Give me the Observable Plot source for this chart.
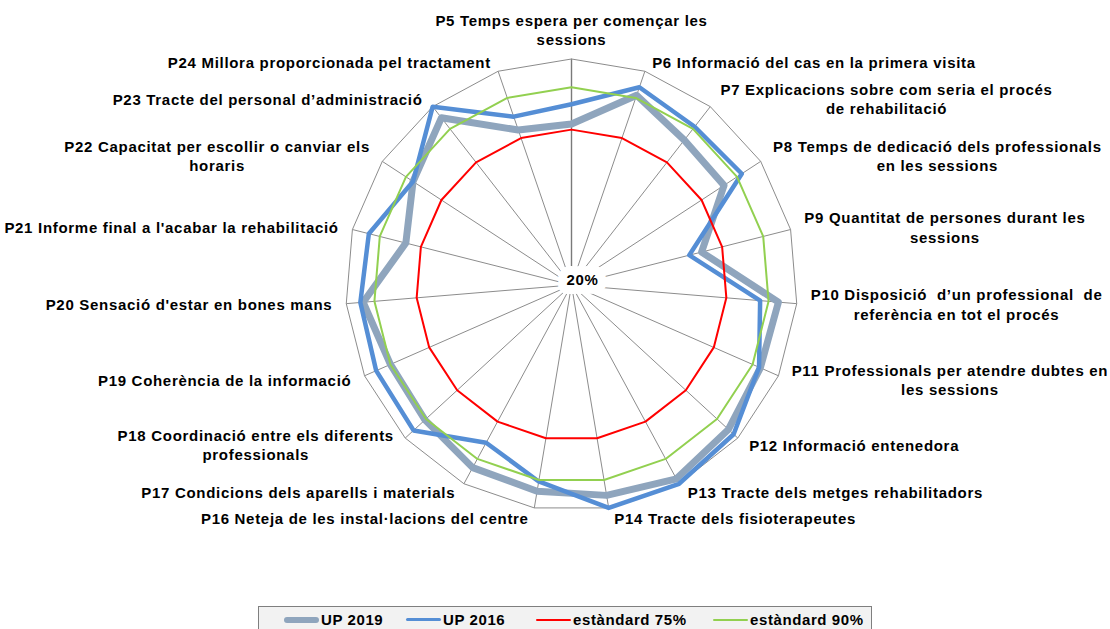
<!DOCTYPE html>
<html><head><meta charset="utf-8">
<script src="https://cdn.jsdelivr.net/npm/d3@7"></script>
<script src="https://cdn.jsdelivr.net/npm/@observablehq/plot@0.6"></script>
<style>
html,body{margin:0;padding:0;background:#fff;overflow:hidden;}
#chart svg text{letter-spacing:0.7px; white-space:pre;}
.legend{position:absolute; left:258px; top:606px; width:614px; height:30px; box-sizing:border-box; border:1px solid #7f7f7f; background:#f2f2f2;}
.item{position:absolute; top:4px; display:flex; align-items:center; font:bold 15px "Liberation Sans",Arial,sans-serif; letter-spacing:0.6px; color:#000; white-space:nowrap;}
.sw{display:inline-block; width:35px; border-radius:4px; margin-right:2px;}
</style>
</head><body>
<div id="chart"></div>
<div class="legend" id="legend"></div>
<script>
// ---- data ----
const categories = [
  "P5 Temps espera per començar les\nsessions",
  "P6 Informació del cas en la primera visita",
  "P7 Explicacions sobre com seria el procés\nde rehabilitació",
  "P8 Temps de dedicació dels professionals\nen les sessions",
  "P9 Quantitat de persones durant les\nsessions",
  "P10 Disposició  d’un professional  de\nreferència en tot el procés",
  "P11 Professionals per atendre dubtes en\nles sessions",
  "P12 Informació entenedora",
  "P13 Tracte dels metges rehabilitadors",
  "P14 Tracte dels fisioterapeutes",
  "P16 Neteja de les instal·lacions del centre",
  "P17 Condicions dels aparells i materials",
  "P18 Coordinació entre els diferents\nprofessionals",
  "P19 Coherència de la informació",
  "P20 Sensació d'estar en bones mans",
  "P21 Informe final a l'acabar la rehabilitació",
  "P22 Capacitat per escollir o canviar els\nhoraris",
  "P23 Tracte del personal d’administració",
  "P24 Millora proporcionada pel tractament"
];
const up2019 = [77, 91, 85, 84.5, 67.5, 93.5, 93, 95.5, 98, 95.5, 94, 93.5, 90.5, 90, 94, 80.5, 87, 95, 78];
const up2016 = [84, 94, 91, 92, 63, 87, 92.5, 98, 100, 100, 90.5, 83.5, 96, 95.5, 95, 94, 87, 100, 83];
const std75  = [75, 75, 75, 75, 75, 75, 75, 75, 75, 75, 75, 75, 75, 75, 75, 75, 75, 75, 75];
const std90  = [90, 90, 90, 90, 90, 90, 90, 90, 90, 90, 90, 90, 90, 90, 90, 90, 90, 90, 90];
const seriesNames = ["UP 2019", "UP 2016", "estàndard 75%", "estàndard 90%"];
const axisMin = 20, axisMax = 100;
const tickLabels = ["20%"];

// ---- styles ----
const seriesStyle = {
  "UP 2019": {stroke: "#8FA5BD", width: 7},
  "UP 2016": {stroke: "#558ED5", width: 4.5},
  "estàndard 75%": {stroke: "#FF0000", width: 2},
  "estàndard 90%": {stroke: "#92D050", width: 2}
};
const FONT = '"Liberation Sans", Arial, sans-serif';
const FS = 15, LS = 0.7, LH = 19.5;

const n = categories.length;
const ang = i => i * 2 * Math.PI / n;
const polar = (i, v) => {
  const r = (v - axisMin) / (axisMax - axisMin);
  return {x: r * Math.sin(ang(i)), y: r * Math.cos(ang(i))};
};
const valuesBy = {"UP 2019": up2019, "UP 2016": up2016, "estàndard 75%": std75, "estàndard 90%": std90};

function ring(series, vals) {
  const rows = vals.map((v, i) => ({series, i, v, ...polar(i, v)}));
  rows.push(rows[0]);
  return rows;
}

const outer = ring("grid", categories.map(() => axisMax));
const spokes = categories.map((c, i) => ({i, ...polar(i, axisMax)}));

// measurement for label block widths
const ctx = document.createElement("canvas").getContext("2d");
ctx.font = `bold ${FS}px ${FONT}`;
const measure = s => ctx.measureText(s).width + s.length * LS;

const marks = [];
marks.push(Plot.link(spokes.slice(1), {x1: 0, y1: 0, x2: "x", y2: "y", stroke: "#8c8c8c", strokeWidth: 1}));
marks.push(Plot.link(spokes.slice(0, 1), {x1: 0, y1: 0, x2: "x", y2: "y", stroke: "#7a7a7a", strokeWidth: 1.4}));
marks.push(Plot.line(outer, {x: "x", y: "y", stroke: "#8c8c8c", strokeWidth: 1}));
marks.push(Plot.text(tickLabels, {x: 0, y: 0, text: d => d, dx: 11, dy: -5, fontSize: 15, fontWeight: "bold",
  fontFamily: FONT, fill: "#000", stroke: "#fff", strokeWidth: 18, paintOrder: "stroke", textAnchor: "middle"}));

for (const s of seriesNames) {
  const st = seriesStyle[s];
  marks.push(Plot.line(ring(s, valuesBy[s]), {x: "x", y: "y", stroke: st.stroke, strokeWidth: st.width,
    strokeLinejoin: "round", strokeLinecap: "round"}));
}

categories.forEach((label, i) => {
  const s = Math.sin(ang(i)), c = Math.cos(ang(i));
  const lines = label.split("\n");
  const w = Math.max(...lines.map(measure));
  const h = lines.length * LH;
  const a = 4 + 10 * Math.abs(s);
  let dx = 0;
  if (s > 0.05) dx = a + w / 2; else if (s < -0.05) dx = -(a + w / 2);
  let dy = -10 * c - 0.5;
  if (Math.abs(s) < 0.05) dy -= h / 2;
  const p = polar(i, axisMax);
  marks.push(Plot.text([{label, ...p}], {x: "x", y: "y", text: "label", dx, dy,
    textAnchor: "middle", lineAnchor: "middle", lineHeight: LH / FS,
    fontSize: FS, fontWeight: "bold", fontFamily: FONT, fill: "#000"}));
});

const chart = Plot.plot({
  width: 1110, height: 603, margin: 0,
  x: {domain: [-1, 1], range: [345, 797], axis: null},
  y: {domain: [-1, 1], range: [510.5, 58.5], axis: null},
  style: {background: "#fff", overflow: "visible"},
  marks
});
document.getElementById("chart").appendChild(chart);

// legend
const legend = document.getElementById("legend");
const lefts = [25, 147, 277, 454];
seriesNames.forEach((s, k) => {
  const st = seriesStyle[s];
  const it = document.createElement("div");
  it.className = "item";
  it.style.left = lefts[k] + "px";
  const sw = document.createElement("span");
  sw.className = "sw";
  sw.style.height = Math.max(2, st.width - 1) + "px";
  sw.style.background = st.stroke;
  it.appendChild(sw);
  const t = document.createElement("span");
  t.textContent = s;
  it.appendChild(t);
  legend.appendChild(it);
});
</script>
</body></html>
